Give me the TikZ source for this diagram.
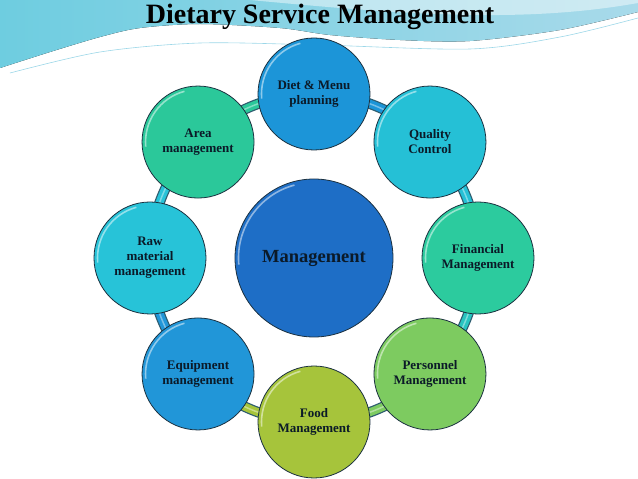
\documentclass[tikz,border=0pt]{standalone}
\usepackage{fontspec}
\setmainfont{Liberation Serif}
\usetikzlibrary{backgrounds}

\definecolor{hubc}{HTML}{1E6EC6}
\definecolor{dietc}{HTML}{1C95D8}
\definecolor{qualc}{HTML}{25C0D6}
\definecolor{finc}{HTML}{2CCB9E}
\definecolor{persc}{HTML}{7DCB60}
\definecolor{foodc}{HTML}{A6C43B}
\definecolor{equipc}{HTML}{2196D8}
\definecolor{rawc}{HTML}{27C3D8}
\definecolor{areac}{HTML}{2BC89A}
\definecolor{ballrim}{HTML}{1B3140}
\definecolor{bandedge}{HTML}{2F5E70}
\definecolor{ink}{HTML}{0B1A28}
\definecolor{wavel}{HTML}{6ECDE0}
\definecolor{waver}{HTML}{A8DAEA}

\tikzset{
  gloss/.style={path picture={\draw[white, opacity=.5, line width=1.6pt]
      (path picture bounding box.center) ++(185:#1) arc[start angle=185, end angle=105, radius=#1];}},
  ball/.style={circle, draw=ballrim, line width=.8pt, fill=#1, minimum size=112pt,
      inner sep=0pt, align=center, text=ink, font=\fontsize{13}{15}\selectfont\bfseries,
      gloss=52.5pt},
  hub/.style={circle, draw=ballrim, line width=.8pt, fill=hubc, minimum size=158pt,
      inner sep=0pt, text=ink, font=\fontsize{18.5}{20}\selectfont\bfseries, gloss=75.5pt},
  band/.style={draw=#1, line width=8pt,
      preaction={draw=bandedge, line width=10.5pt},
      postaction={draw=white, opacity=.4, line width=1.5pt}},
  title/.style={font=\fontsize{28}{30}\selectfont\bfseries, text=black}
}

\begin{document}
\begin{tikzpicture}[x=1pt, y=1pt]
\useasboundingbox (-314,-221) rectangle (324,258);

% backdrop wave
\begin{scope}[shift={(-314,258)}, yscale=-1]
  \fill[left color=wavel, right color=waver] (0,0) -- plot[smooth] coordinates
    {(0,68) (50,52) (100,37) (140,28) (200,24) (280,28) (330,35) (400,40) (470,41) (560,30) (638,12)}
    -- (638,0) -- cycle;
  \fill[white, opacity=.45] (250,0) .. controls (400,14) and (520,24) .. (638,3) -- (638,0) -- cycle;
  \draw[white, line width=1pt] plot[smooth] coordinates
    {(0,70) (100,46) (200,37) (320,40) (470,45) (560,33) (638,14)};
  \draw[waver!80!wavel, line width=.6pt] plot[smooth] coordinates
    {(10,73) (100,52) (200,43) (320,45) (470,49) (560,37) (638,18)};
\end{scope}

\node[title] (head) at (6,241) {Dietary Service Management};

% hub and ring
\node[hub] (mgmt) at (0,0) {Management};
\node[ball=dietc] (diet) at (90:164) {Diet \& Menu\\planning};
\node[ball=qualc] (qual) at (45:164) {Quality\\Control};
\node[ball=finc] (fin) at (0:164) {Financial\\Management};
\node[ball=persc] (pers) at (-45:164) {Personnel\\Management};
\node[ball=foodc] (food) at (-90:164) {Food\\Management};
\node[ball=equipc] (equip) at (-135:164) {Equipment\\management};
\node[ball=rawc] (raw) at (180:164) {Raw\\material\\management};
\node[ball=areac] (area) at (135:164) {Area\\management};

\begin{pgfonlayer}{background}
  \draw[band=dietc] (diet.center) to[bend left=22.5, looseness=.89] (qual.center);
  \draw[band=qualc] (qual.center) to[bend left=22.5, looseness=.89] (fin.center);
  \draw[band=qualc!60!finc] (fin.center) to[bend left=22.5, looseness=.89] (pers.center);
  \draw[band=persc] (pers.center) to[bend left=22.5, looseness=.89] (food.center);
  \draw[band=foodc] (food.center) to[bend left=22.5, looseness=.89] (equip.center);
  \draw[band=equipc] (equip.center) to[bend left=22.5, looseness=.89] (raw.center);
  \draw[band=rawc] (raw.center) to[bend left=22.5, looseness=.89] (area.center);
  \draw[band=areac] (area.center) to[bend left=22.5, looseness=.89] (diet.center);
\end{pgfonlayer}
\end{tikzpicture}
\end{document}
